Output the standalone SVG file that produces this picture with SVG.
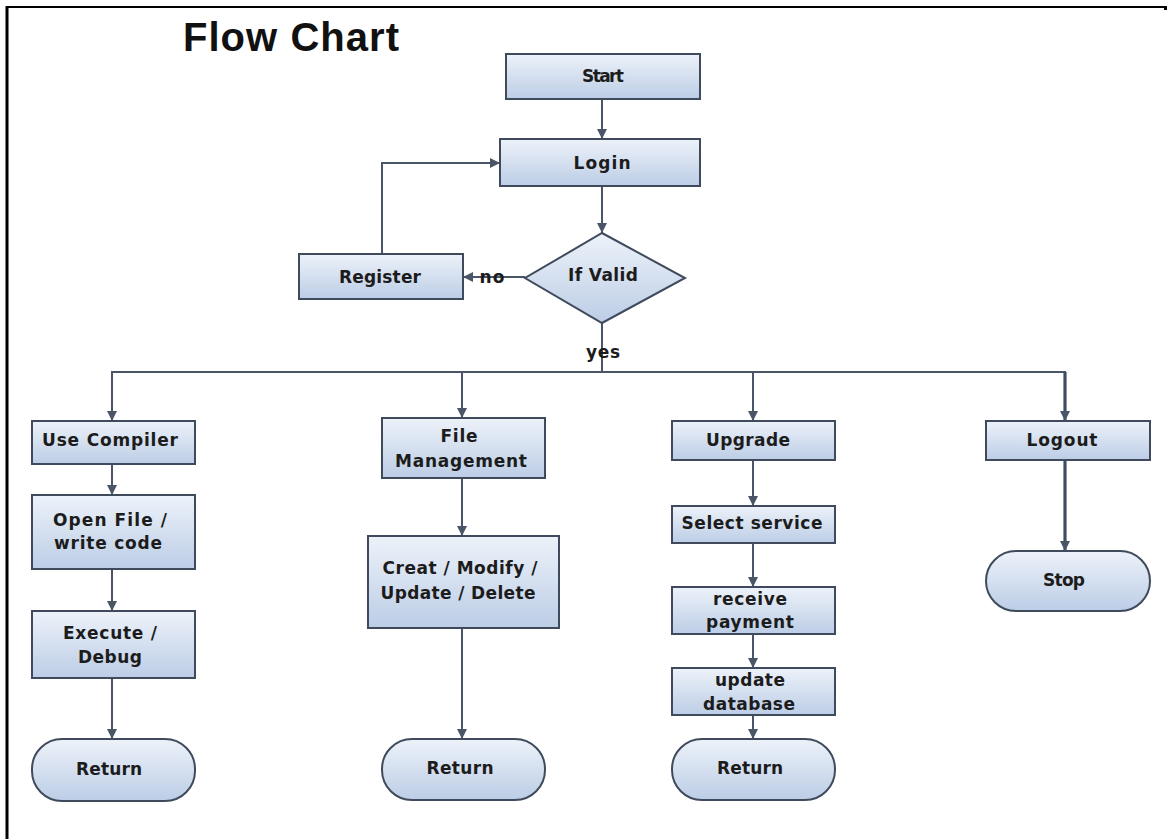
<svg xmlns="http://www.w3.org/2000/svg" width="1169" height="839" viewBox="0 0 1169 839">
<style>
.box{fill:url(#g);stroke:#3f4a5c;stroke-width:2}
.t{font-family:"DejaVu Sans",sans-serif;font-weight:bold;font-size:17px;fill:#1c1c1c;text-anchor:middle}
.c{fill:none;stroke:#4a5668;stroke-width:2}
.ct{fill:none;stroke:#3f4d63;stroke-width:3.2}
.title{font-family:"Liberation Sans",Arial,sans-serif;font-weight:bold;font-size:40px;fill:#111}
</style>
<defs>
<linearGradient id="g" x1="0" y1="0" x2="0" y2="1">
<stop offset="0" stop-color="#edf2f9"/>
<stop offset="1" stop-color="#bccde6"/>
</linearGradient>
<marker id="a" markerUnits="userSpaceOnUse" markerWidth="12" markerHeight="12" refX="10" refY="5" orient="auto">
<path d="M0,0 L10,5 L0,10 Z" fill="#4a5668"/>
</marker>
</defs>
<rect width="1169" height="839" fill="#fff"/>
<g id="frame">
<line x1="7" y1="7" x2="1167" y2="7" stroke="#000" stroke-width="2"/>
<line x1="7" y1="6" x2="7" y2="839" stroke="#000" stroke-width="3"/>
<rect x="1164" y="6" width="3" height="4" fill="#000"/>
</g>
<text class="title" x="183" y="51" textLength="216">Flow Chart</text>
<g id="connectors">
<line class="c" x1="602" y1="99" x2="602" y2="139" marker-end="url(#a)"/>
<line class="c" x1="602" y1="186" x2="602" y2="233" marker-end="url(#a)"/>
<line class="c" x1="525" y1="277" x2="463" y2="277" marker-end="url(#a)"/>
<polyline class="c" points="382,254 382,163 500,163" marker-end="url(#a)"/>
<line class="c" x1="602" y1="323" x2="602" y2="372"/>
<line class="c" x1="111" y1="372" x2="1066" y2="372"/>
<line class="c" x1="112" y1="372" x2="112" y2="421" marker-end="url(#a)"/>
<line class="c" x1="462" y1="372" x2="462" y2="418" marker-end="url(#a)"/>
<line class="c" x1="753" y1="372" x2="753" y2="421" marker-end="url(#a)"/>
<line class="ct" x1="1065" y1="372" x2="1065" y2="421" marker-end="url(#a)"/>
<line class="c" x1="112" y1="464" x2="112" y2="495" marker-end="url(#a)"/>
<line class="c" x1="112" y1="569" x2="112" y2="611" marker-end="url(#a)"/>
<line class="c" x1="112" y1="678" x2="112" y2="739" marker-end="url(#a)"/>
<line class="c" x1="462" y1="478" x2="462" y2="536" marker-end="url(#a)"/>
<line class="c" x1="462" y1="628" x2="462" y2="739" marker-end="url(#a)"/>
<line class="c" x1="753" y1="460" x2="753" y2="506" marker-end="url(#a)"/>
<line class="c" x1="753" y1="543" x2="753" y2="587" marker-end="url(#a)"/>
<line class="c" x1="753" y1="634" x2="753" y2="668" marker-end="url(#a)"/>
<line class="c" x1="753" y1="715" x2="753" y2="739" marker-end="url(#a)"/>
<line class="ct" x1="1065" y1="460" x2="1065" y2="551" marker-end="url(#a)"/>
<text class="t" x="492" y="283" textLength="25">no</text>
<text class="t" x="603" y="358" textLength="34">yes</text>
</g>
<g id="start"><rect class="box" x="506" y="54" width="194" height="45"/><text class="t" x="603" y="82" font-size="16" textLength="42">Start</text></g>
<g id="login"><rect class="box" x="500" y="139" width="200" height="47"/><text class="t" x="602" y="169" font-size="18" textLength="57">Login</text></g>
<g id="ifvalid"><polygon class="box" points="602,233 685,278 602,323 525,278"/><text class="t" x="603" y="281" textLength="70">If Valid</text></g>
<g id="register"><rect class="box" x="299" y="254" width="164" height="45"/><text class="t" x="380" y="283" textLength="82">Register</text></g>
<g id="usecompiler"><rect class="box" x="32" y="421" width="163" height="43"/><text class="t" x="110" y="446" textLength="136">Use Compiler</text></g>
<g id="openfile"><rect class="box" x="32" y="495" width="163" height="74"/><text class="t" x="110" y="526" textLength="114">Open File /</text><text class="t" x="108" y="549" textLength="108">write code</text></g>
<g id="execute"><rect class="box" x="32" y="611" width="163" height="67"/><text class="t" x="110" y="639" textLength="94">Execute /</text><text class="t" x="110" y="663" textLength="64">Debug</text></g>
<g id="return1"><rect class="box" x="32" y="739" width="163" height="62" rx="30" ry="30"/><text class="t" x="109" y="775" textLength="66">Return</text></g>
<g id="filemgmt"><rect class="box" x="382" y="418" width="163" height="60"/><text class="t" x="459" y="442" textLength="37">File</text><text class="t" x="461" y="467" textLength="132">Management</text></g>
<g id="creat"><rect class="box" x="368" y="536" width="191" height="92"/><text class="t" x="460" y="574" textLength="155">Creat / Modify  /</text><text class="t" x="458" y="599" textLength="155">Update / Delete</text></g>
<g id="return2"><rect class="box" x="382" y="739" width="163" height="61" rx="30" ry="30"/><text class="t" x="460" y="774" textLength="67">Return</text></g>
<g id="upgrade"><rect class="box" x="672" y="421" width="163" height="39"/><text class="t" x="748" y="446" textLength="84">Upgrade</text></g>
<g id="selectservice"><rect class="box" x="672" y="506" width="163" height="37"/><text class="t" x="752" y="529" textLength="141">Select service</text></g>
<g id="receive"><rect class="box" x="672" y="587" width="163" height="47"/><text class="t" x="750" y="605" textLength="74">receive</text><text class="t" x="750" y="628" textLength="88">payment</text></g>
<g id="updatedb"><rect class="box" x="672" y="668" width="163" height="47"/><text class="t" x="750" y="686" textLength="70">update</text><text class="t" x="749" y="710" textLength="92">database</text></g>
<g id="return3"><rect class="box" x="672" y="739" width="163" height="61" rx="30" ry="30"/><text class="t" x="750" y="774" textLength="66">Return</text></g>
<g id="logout"><rect class="box" x="986" y="421" width="164" height="39"/><text class="t" x="1062" y="446" textLength="71">Logout</text></g>
<g id="stop"><rect class="box" x="986" y="551" width="164" height="60" rx="30" ry="30"/><text class="t" x="1064" y="586" textLength="42">Stop</text></g>
</svg>
